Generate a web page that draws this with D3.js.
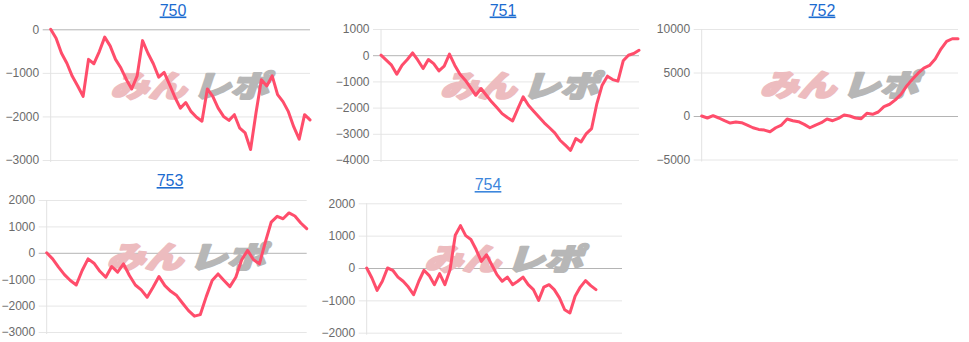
<!DOCTYPE html>
<html>
<head>
<meta charset="utf-8">
<script src="https://cdn.jsdelivr.net/npm/d3@7"></script>
<style>
  body { margin: 0; background: #fff; }
  text { font-family: Arial, "Liberation Sans", sans-serif; }
</style>
</head>
<body>
<div id="chart"></div>
<script>
// machine numbers shown above each small chart
const titles = ["750", "751", "752", "753", "754"];

// running difference per game
const values750 = [0, -206, -550, -780, -1080, -1300, -1540, -690, -790, -510, -180, -380, -690, -890, -1150, -1370,
    -1070, -260, -550, -790, -1100, -990, -1270, -1560, -1810, -1680, -1890, -2020, -2110, -1370, -1540, -1810, -2000,
    -2090, -1960, -2270, -2380, -2760, -1920, -1160, -1300, -1070, -1500, -1660, -1890, -2240, -2520, -1960, -2080];
const values751 = [0, -190, -380, -725, -380, -165, 90, -190, -510, -165, -320, -600, -420, 40, -380, -725, -955,
    -1235, -1530, -1270, -1530, -1780, -2000, -2230, -2380, -2510, -2040, -1590, -1910, -2140, -2360, -2580, -2770,
    -2965, -3245, -3435, -3630, -3180, -3310, -2990, -2800, -1845, -1145, -800, -930, -990, -215, 0, 65, 190];
const values752 = [0, -230, 40, -230, -540, -810, -690, -770, -1040, -1350, -1540, -1620, -1810, -1350, -1040, -350,
    -540, -650, -960, -1350, -1040, -770, -350, -540, -270, 120, 0, -230, -310, 310, 190, 460, 1080, 1350, 1850, 2500,
    3460, 4230, 4920, 5500, 5810, 6540, 7690, 8580, 8880, 8880];
const values753 = [0, -230, -545, -825, -1050, -1220, -670, -230, -395, -700, -925, -520, -735, -420, -860, -1220,
    -1405, -1685, -1305, -900, -1245, -1460, -1620, -1910, -2190, -2400, -2340, -1660, -1050, -800, -1050, -1280, -925,
    -265, 90, -265, -420, 405, 1165, 1380, 1290, 1510, 1395, 1130, 915];
const values754 = [0, -310, -690, -410, 0, -70, -280, -410, -590, -825, -410, -70, -235, -515, -175, -515, -50, 1010,
    1310, 1000, 880, 570, 205, 410, 100, -205, -410, -280, -515, -410, -280, -515, -670, -1000, -590, -515, -670, -925,
    -1290, -1390, -875, -590, -390, -545, -670];

// y axis tick labels per chart
const ticks750 = [0, -1000, -2000, -3000];
const ticks751 = [1000, 0, -1000, -2000, -3000, -4000];
const ticks752 = [10000, 5000, 0, -5000];
const ticks753 = [2000, 1000, 0, -1000, -2000, -3000];
const ticks754 = [2000, 1000, 0, -1000, -2000];

// 754 is not finished yet, its axis leaves room for the remaining slots
const slots754 = 50;

const seriesList = [values750, values751, values752, values753, values754];
const tickList = [ticks750, ticks751, ticks752, ticks753, ticks754];
const slotList = [values750.length, values751.length, values752.length, values753.length, slots754];

// where each small chart sits on the page
const boxes = [
    {l: 50.7, r: 310, t: 29.3, b: 160, tx: 173, ty: 15.5},
    {l: 381, r: 639, t: 29, b: 160, tx: 503, ty: 15.5},
    {l: 701.7, r: 958, t: 29, b: 159.5, tx: 822, ty: 15.5},
    {l: 46.7, r: 306.7, t: 200, b: 332, tx: 170, ty: 186},
    {l: 366.7, r: 622, t: 203.3, b: 332.7, tx: 488, ty: 190}
];

const W = 969, H = 342;
const svg = d3.select("#chart").append("svg")
    .attr("width", W)
    .attr("height", H);

svg.append("rect").attr("width", W).attr("height", H).attr("fill", "#fff");

seriesList.forEach(function(values, i) {
    const box = boxes[i];
    const ticks = tickList[i];
    const g = svg.append("g").attr("class", "panel");

    let scaleX = d3.scaleLinear().domain([0, slotList[i] - 1]).range([box.l, box.r]);
    let scaleY = d3.scaleLinear().domain([d3.min(ticks), d3.max(ticks)]).range([box.b, box.t]);

    //title (link style)
    g.append("text")
        .attr("x", box.tx)
        .attr("y", box.ty)
        .attr("text-anchor", "middle")
        .attr("fill", i === 4 ? "#3d86dc" : "#1c6bd0")
        .style("font-size", "16px")
        .style("text-decoration", "underline")
        .text(titles[i]);

    //grid + labels, negative inner size turns ticks into gridlines
    let axisY = d3.axisLeft(scaleY)
        .tickValues(ticks)
        .tickSizeInner(-(box.r - box.l))
        .tickSizeOuter(0)
        .tickPadding(11.5)
        .tickFormat(d3.format("d"));
    let ax = g.append("g")
        .attr("transform", `translate(${box.l},0)`)
        .call(axisY);
    ax.select(".domain").remove();
    ax.selectAll(".tick line")
        .attr("x1", -8)
        .attr("stroke", function(d) { return d === 0 ? "#b4b4b4" : "#e6e6e6"; })
        .attr("stroke-width", 1);
    ax.selectAll(".tick text")
        .attr("fill", "#6b6b6b")
        .style("font-size", "12px")
        .style("font-family", "Arial, 'Liberation Sans', sans-serif");

    //left axis line
    g.append("line")
        .attr("x1", box.l).attr("x2", box.l)
        .attr("y1", box.t).attr("y2", box.b + 2)
        .attr("stroke", "#e2e2e2");

    //watermark
    let wm = g.append("g")
        .attr("transform", `translate(${(box.l + box.r) / 2 + 6},${(box.t + box.b) / 2 + 2}) scale(1,0.75) skewX(-14)`);
    let wmParts = [["みん", -76, "#edbcbf"], ["レポ", 6, "#b7b7b7"]];
    wmParts.forEach(function(p) {
        wm.append("text")
            .attr("x", p[1]).attr("y", 0)
            .attr("textLength", 76)
            .attr("lengthAdjust", "spacingAndGlyphs")
            .attr("fill", p[2])
            .attr("stroke", p[2])
            .attr("stroke-width", 3)
            .attr("stroke-linejoin", "round")
            .style("font-family", "'Noto Sans CJK JP', sans-serif")
            .style("font-weight", 900)
            .style("font-size", "40px")
            .text(p[0]);
    });

    //the line
    let line = d3.line()
        .x(function(d, j) { return scaleX(j); })
        .y(function(d) { return scaleY(d); });
    g.append("path")
        .datum(values)
        .attr("d", line)
        .attr("fill", "none")
        .attr("stroke", "#ff4d6b")
        .attr("stroke-width", 3)
        .attr("stroke-linejoin", "round")
        .attr("stroke-linecap", "round");
});
</script>
</body>
</html>
